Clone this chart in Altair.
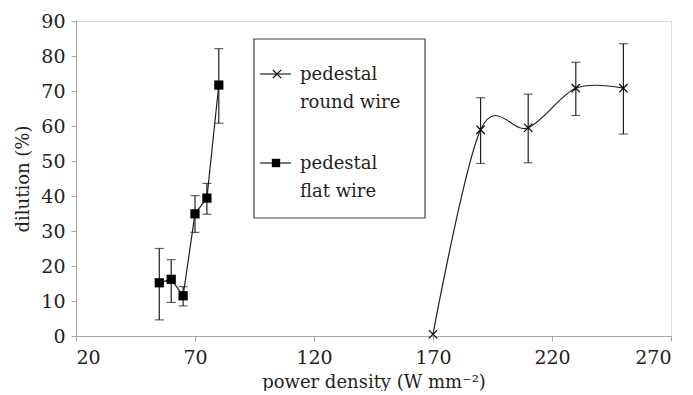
import altair as alt
import pandas as pd

# data
flat_x = [55, 60, 65, 70, 75, 80]
flat_y = [15.2, 16.2, 11.5, 34.9, 39.4, 71.7]
flat_lo = [4.6, 9.6, 8.6, 29.6, 34.8, 60.8]
flat_hi = [25.0, 21.8, 14.1, 40.1, 43.6, 82.1]

round_x = [170, 190, 210, 230, 250]
round_y = [0.5, 58.9, 59.5, 70.8, 70.8]
round_lo = [0.5, 49.3, 49.5, 63.0, 57.7]
round_hi = [0.5, 68.1, 69.1, 78.2, 83.5]

x_ticks = [20, 70, 120, 170, 220, 270]
y_ticks = [0, 10, 20, 30, 40, 50, 60, 70, 80, 90]

legend_names = ["pedestal\nround wire", "pedestal\nflat wire"]

FONT = "DejaVu Serif"
FS = 18
AFS = 19
INK = "#231f20"
AXC = "#a6a6a6"

flat = pd.DataFrame({"x": flat_x, "y": flat_y, "lo": flat_lo, "hi": flat_hi})
rnd = pd.DataFrame({"x": round_x, "y": round_y, "lo": round_lo, "hi": round_hi})
rnd_err = rnd[rnd["hi"] > rnd["lo"]]

xs = alt.Scale(domain=[20, 270], nice=False)
ys = alt.Scale(domain=[0, 90], nice=False)

xaxis = alt.Axis(values=x_ticks, title="power density (W mm⁻²)", labelOverlap=False)
yaxis = alt.Axis(values=y_ticks, title="dilution (%)", labelOverlap=False)

def X(f):
    return alt.X(f, type="quantitative", scale=xs, axis=xaxis)

def Y(f):
    return alt.Y(f, type="quantitative", scale=ys, axis=yaxis)

cross = "M-1,-1L1,1M-1,1L1,-1"

def errs(df):
    base = alt.Chart(df)
    rule = base.mark_rule(color=INK, strokeWidth=1.2).encode(x=X("x"), y=Y("lo"), y2="hi:Q")
    t1 = base.mark_tick(color=INK, orient="horizontal", size=9, thickness=1.2).encode(x=X("x"), y=Y("lo"))
    t2 = base.mark_tick(color=INK, orient="horizontal", size=9, thickness=1.2).encode(x=X("x"), y=Y("hi"))
    return rule + t1 + t2

flat_line = alt.Chart(flat).mark_line(color=INK, strokeWidth=1.2).encode(x=X("x"), y=Y("y"))
flat_pts = alt.Chart(flat).mark_point(shape="square", filled=True, color="black", size=85, opacity=1).encode(
    x=X("x"), y=Y("y"))

rnd_line = alt.Chart(rnd).mark_line(color=INK, strokeWidth=1.2, interpolate="cardinal").encode(
    x=X("x"), y=Y("y"))
rnd_pts = alt.Chart(rnd).mark_point(shape=cross, filled=False, color="black", size=70, strokeWidth=1.2, opacity=1).encode(
    x=X("x"), y=Y("y"))

# legend (drawn in plot pixel space)
one = pd.DataFrame({"a": [0]})
leg_box = alt.Chart(one).mark_rect(
    fill="white", stroke="#444444", strokeWidth=1.2).encode(
    x=alt.value(178), x2=alt.value(349), y=alt.value(18), y2=alt.value(197))
leg_rule1 = alt.Chart(one).mark_rule(color=INK, strokeWidth=1.2).encode(
    x=alt.value(184), x2=alt.value(215), y=alt.value(53))
leg_rule2 = alt.Chart(one).mark_rule(color=INK, strokeWidth=1.2).encode(
    x=alt.value(184), x2=alt.value(215), y=alt.value(142))
leg_pt1 = alt.Chart(one).mark_point(shape=cross, filled=False, color="black", size=70, strokeWidth=1.2, opacity=1).encode(
    x=alt.value(201), y=alt.value(53))
leg_pt2 = alt.Chart(one).mark_point(shape="square", filled=True, color="black", size=70, opacity=1).encode(
    x=alt.value(200), y=alt.value(142))
leg_df = pd.DataFrame({"name": legend_names, "ly": [59, 148]})
leg_txt = alt.Chart(leg_df).transform_calculate(
    lab="split(datum.name, '\\n')").mark_text(
    font=FONT, fontSize=FS, color=INK, align="left", baseline="alphabetic", lineHeight=28).encode(
    x=alt.value(224), y=alt.Y("ly:Q", scale=None), text="lab:N")

chart = alt.layer(
    flat_line, errs(flat), flat_pts,
    rnd_line, errs(rnd_err), rnd_pts,
    leg_box, leg_rule1, leg_rule2, leg_pt1, leg_pt2, leg_txt
).properties(
    width=595, height=315,
    autosize=alt.AutoSizeParams(type="none"),
    padding={"left": 68, "top": 13, "right": 10, "bottom": 55}
).configure_view(stroke=None).configure(background="white", font=FONT).configure_axis(
    grid=False, domainColor=AXC, tickColor=AXC, tickSize=5,
    labelFont=FONT, labelFontSize=AFS, labelColor=INK,
    titleFont=FONT, titleFontSize=FS, titleFontWeight="normal", titleColor=INK
).configure_axisX(labelPadding=7, titlePadding=6).configure_axisY(labelPadding=6, titlePadding=8)

chart.save("out.html", embed_options={"renderer": "svg", "actions": False})
